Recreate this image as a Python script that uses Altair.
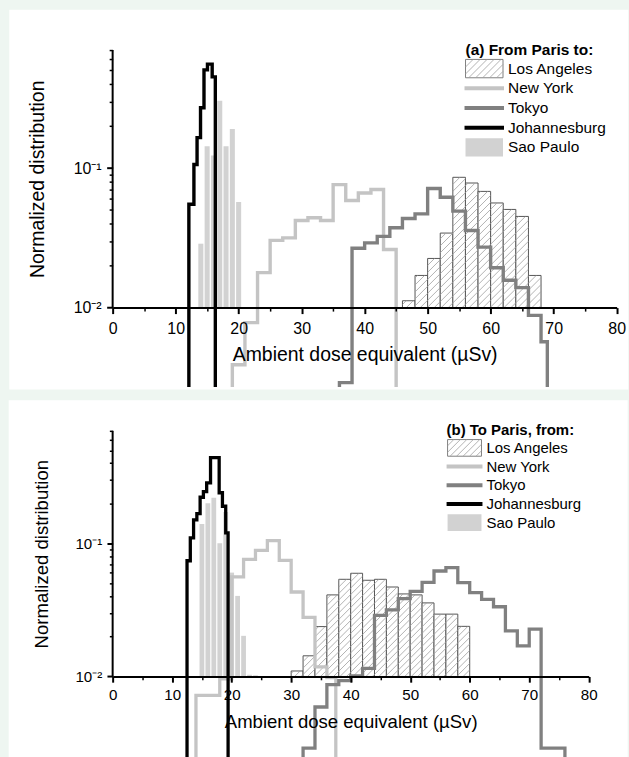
import math

import altair as alt
import pandas as pd

FONT = "Liberation Sans, Arial, Helvetica, sans-serif"
PAGE_BG = "#eef6f1"

CITIES = ["Los Angeles", "New York", "Tokyo", "Johannesburg", "Sao Paulo"]
LINE_COLORS = {"New York": "#c4c4c4", "Tokyo": "#808080", "Johannesburg": "#000000"}
SAO_FILL = "#d2d2d2"
LA_STROKE = "#555555"
HATCH_COLOR = "#a0a0a0"

X_TICKS = [0, 10, 20, 30, 40, 50, 60, 70, 80]
X_MINOR = [5, 15, 25, 35, 45, 55, 65, 75]
Y_TICKS = [0.01, 0.1]
Y_MINOR = [0.02, 0.03, 0.04, 0.05, 0.06, 0.07, 0.08, 0.09,
           0.2, 0.3, 0.4, 0.5, 0.6, 0.7]
AXIS_BASE = 0.01   # level where the dose axis sits
EMPTY = 1e-4       # empty bin: far below the visible part of the log axis

# ---------------- (a) From Paris to ----------------
LA_A_EDGES = [46, 48, 50, 52, 54, 56, 58, 60, 62, 64, 66, 68]
LA_A_VALUES = [0.0112, 0.0170, 0.0225, 0.0342, 0.0858, 0.0781,
               0.0680, 0.0562, 0.0505, 0.0450, 0.0170]
NY_A_EDGES = [19, 21, 23, 25, 27, 29, 31, 33, 35, 37, 39, 41, 43, 45]
NY_A_VALUES = [0.0039, 0.0078, 0.0178, 0.0303, 0.0316, 0.0421, 0.0440,
               0.0421, 0.0760, 0.0585, 0.0663, 0.0701, 0.0261]
TYO_A_EDGES = [36, 38, 40, 42, 44, 46, 48, 50, 52, 54, 56, 58, 60, 62,
               64, 66, 68, 69]
TYO_A_VALUES = [0.0029, 0.0266, 0.0291, 0.0324, 0.0373, 0.0435, 0.0469,
                0.0713, 0.0618, 0.0491, 0.0357, 0.0271, 0.0193, 0.0157,
                0.0139, 0.0088, 0.0057]
JNB_A_EDGES = [12.1, 12.9, 13.4, 13.95, 14.5, 15.05, 15.8, 16.3]
JNB_A_VALUES = [0.055, 0.106, 0.165, 0.27, 0.505, 0.555, 0.45]
SAO_A_CENTERS = [14, 15, 16, 17, 18, 19, 20]
SAO_A_VALUES = [0.0287, 0.143, 0.123, 0.303, 0.143, 0.190, 0.0571]

# ---------------- (b) To Paris, from ----------------
LA_B_EDGES = [30, 32, 34, 36, 38, 40, 42, 44, 46, 48, 50, 52, 54, 56, 58, 60]
LA_B_VALUES = [0.0110, 0.0143, 0.0237, 0.0410, 0.0537, 0.0596, 0.0528,
               0.0537, 0.0470, 0.0417, 0.0410, 0.0357, 0.0294, 0.0294,
               0.0238]
NY_B_EDGES = [14, 16, 18, 20, 22, 24, 26, 28, 30, 32, 34, 36, 37.5]
NY_B_VALUES = [0.0072, 0.0072, 0.0096, 0.0559, 0.0759, 0.0886, 0.105,
               0.0746, 0.0431, 0.0278, 0.0118, 0.0098]
TYO_B_EDGES = [32, 34, 36, 38, 40, 42, 44, 46, 48, 50, 52, 54, 56, 58,
               60, 62, 64, 66, 68, 70, 72, 76]
TYO_B_VALUES = [0.0029, 0.0059, 0.0087, 0.0093, 0.0101, 0.0115, 0.0288,
                0.0316, 0.0385, 0.0436, 0.0510, 0.0620, 0.0656, 0.0507,
                0.0426, 0.0380, 0.0334, 0.0220, 0.0170, 0.0227, 0.0029]
JNB_B_EDGES = [12.5, 13.05, 13.6, 14.15, 14.7, 15.25, 15.8, 16.45, 17.9,
               18.45, 19.0, 19.4]
JNB_B_VALUES = [0.074, 0.110, 0.150, 0.167, 0.222, 0.245, 0.285, 0.440,
                0.240, 0.190, 0.120]
SAO_B_CENTERS = [15, 16, 17, 18, 19, 20, 21, 22, 23, 24]
SAO_B_VALUES = [0.140, 0.200, 0.220, 0.100, 0.172, 0.0603, 0.0403, 0.0202,
                0.0103, 0.0102]
SAO_BAR_WIDTH = 0.8

PANELS = [
    dict(
        title="(a) From Paris to:",
        la=(LA_A_EDGES, LA_A_VALUES), ny=(NY_A_EDGES, NY_A_VALUES),
        tyo=(TYO_A_EDGES, TYO_A_VALUES), jnb=(JNB_A_EDGES, JNB_A_VALUES),
        sao=(SAO_A_CENTERS, SAO_A_VALUES),
        width=505.6, height=338, ydom=(0.0027, 0.7),
        bg=(-103.7, 517.3, -40.4, 340.6),
        tick=6, minor_tick=3.5, label_fs=16, label_pad=7, title_fs=19.5,
        title_pad=9.5, ylabel_pad=5.5, ytitle_x=-75.5, line_w=3.4,
        hatch=7,
        legend=dict(tx=354, ty=0, sx0=354, sx1=391.6, sh=18.4, text_x=396.6,
                    y0=18.6, dy=19.75, fs=15.5, lw=4),
    ),
    dict(
        title="(b) To Paris, from:",
        la=(LA_B_EDGES, LA_B_VALUES), ny=(NY_B_EDGES, NY_B_VALUES),
        tyo=(TYO_B_EDGES, TYO_B_VALUES), jnb=(JNB_B_EDGES, JNB_B_VALUES),
        sao=(SAO_B_CENTERS, SAO_B_VALUES),
        width=477.6, height=328, ydom=(0.00245, 0.7),
        bg=(-104.3, 516.7, -30.6, 332),
        tick=5.7, minor_tick=3.3, label_fs=15.2, label_pad=5.4, title_fs=18.6,
        title_pad=9.7, ylabel_pad=5.2, ytitle_x=-71.3, line_w=3.3,
        hatch=6.5,
        legend=dict(tx=335, ty=-1.3, sx0=336, sx1=370, sh=16.7, text_x=375,
                    y0=17.1, dy=18.75, fs=15, lw=4),
    ),
]


def log_px(v, p):
    lo, hi = math.log10(p["ydom"][0]), math.log10(p["ydom"][1])
    return p["height"] * (hi - math.log10(v)) / (hi - lo)


def px_log(py, p):
    lo, hi = math.log10(p["ydom"][0]), math.log10(p["ydom"][1])
    return 10 ** (hi - py * (hi - lo) / p["height"])


def hatch_lines(x0, x1, y0, y1, step):
    """'/' strokes (px + py = c) clipped to a pixel box, y pointing down."""
    segs = []
    k = math.ceil((x0 + y0) / step)
    while k * step <= x1 + y1:
        c = k * step
        a = max(x0, c - y1)
        b = min(x1, c - y0)
        if b - a > 0.4:
            segs.append((a, c - a, b, c - b))
        k += 1
    return segs


def step_frame(edges, values):
    xs = [edges[0]] + list(edges[:-1]) + [edges[-1], edges[-1]]
    ys = [EMPTY] + list(values) + [values[-1], EMPTY]
    return pd.DataFrame({"x": xs, "y": ys, "i": list(range(len(xs)))})


def build_panel(p):
    W, H = p["width"], p["height"]
    xs = alt.Scale(domain=[0, 80], nice=False, zero=False)
    ys = alt.Scale(type="log", domain=list(p["ydom"]), nice=False)
    base_px = log_px(AXIS_BASE, p)
    off = -(H - base_px)
    one = pd.DataFrame({"k": [0]})

    def X(field):
        return alt.X(field, scale=xs, axis=None)

    def Y(field):
        return alt.Y(field, scale=ys, axis=None)

    layers = []
    bx0, bx1, by0, by1 = p["bg"]
    layers.append(
        alt.Chart(one).mark_rect(color="white").encode(
            x=alt.value(bx0), x2=alt.value(bx1), y=alt.value(by0), y2=alt.value(by1)
        )
    )

    # Los Angeles: hatched histogram
    la_edges, la_vals = p["la"]
    la_df = pd.DataFrame({"lo": la_edges[:-1], "hi": la_edges[1:], "v": la_vals})
    layers.append(
        alt.Chart(la_df)
        .transform_calculate(base=str(AXIS_BASE))
        .mark_rect(fill="white", stroke=LA_STROKE, strokeWidth=1)
        .encode(x=X("lo:Q"), x2="hi:Q", y=Y("base:Q"), y2="v:Q")
    )
    kx = W / 80
    rows = []
    for lo, hi, v in zip(la_edges[:-1], la_edges[1:], la_vals):
        for a, ya, b, yb in hatch_lines(lo * kx, hi * kx, log_px(v, p), base_px, p["hatch"]):
            rows.append({"hx": a / kx, "hy": px_log(ya, p), "hx2": b / kx, "hy2": px_log(yb, p)})
    layers.append(
        alt.Chart(pd.DataFrame(rows))
        .mark_rule(color=HATCH_COLOR, strokeWidth=0.8)
        .encode(x=X("hx:Q"), y=Y("hy:Q"), x2="hx2:Q", y2="hy2:Q")
    )

    # Sao Paulo: filled columns
    sc, sv = p["sao"]
    layers.append(
        alt.Chart(pd.DataFrame({"c": sc, "v": sv}))
        .transform_calculate(
            lo=f"datum.c - {SAO_BAR_WIDTH / 2}",
            hi=f"datum.c + {SAO_BAR_WIDTH / 2}",
            base=str(AXIS_BASE),
        )
        .mark_rect(color=SAO_FILL)
        .encode(x=X("lo:Q"), x2="hi:Q", y=Y("base:Q"), y2="v:Q")
    )

    # step outlines
    for key, name in (("ny", "New York"), ("tyo", "Tokyo"), ("jnb", "Johannesburg")):
        e, v = p[key]
        layers.append(
            alt.Chart(step_frame(e, v))
            .mark_line(interpolate="step-after", clip=True, color=LINE_COLORS[name],
                       strokeWidth=p["line_w"], strokeJoin="miter", strokeCap="butt")
            .encode(x=X("x:Q"), y=Y("y:Q"), order="i:Q")
        )

    # axes: the vertical axis line stops at the dose axis
    axis_df = pd.DataFrame({"x": [0.0], "ylo": [AXIS_BASE], "yhi": [p["ydom"][1]]})
    major_x = alt.Axis(
        values=X_TICKS, orient="bottom", offset=off, format="d", zindex=2,
        tickSize=p["tick"], tickWidth=2, tickColor="black",
        domainWidth=2, domainColor="black",
        labelFontSize=p["label_fs"], labelColor="black", labelPadding=p["label_pad"],
        labelFlush=False, labelFont=FONT,
        title="Ambient dose equivalent (µSv)", titleFontSize=p["title_fs"],
        titleFontWeight="normal", titleColor="black", titlePadding=p["title_pad"],
        titleFont=FONT, grid=False,
    )
    major_y = alt.Axis(
        values=Y_TICKS, orient="left", domain=False, zindex=2,
        tickSize=p["tick"], tickWidth=2, tickColor="black",
        labelExpr="datum.value < 0.05 ? '10⁻²' : '10⁻¹'",
        labelFontSize=p["label_fs"], labelColor="black", labelPadding=p["ylabel_pad"],
        labelFont=FONT,
        title="Normalized distribution", titleFontSize=p["title_fs"],
        titleFontWeight="normal", titleColor="black", titleFont=FONT,
        titleAngle=270, titleX=p["ytitle_x"], titleY=base_px / 2,
        titleAlign="center", titleBaseline="middle", grid=False,
    )
    layers.append(
        alt.Chart(axis_df).mark_rule(color="black", strokeWidth=2).encode(
            x=alt.X("x:Q", scale=xs, axis=major_x),
            y=alt.Y("ylo:Q", scale=ys, axis=major_y),
            y2="yhi:Q",
        )
    )
    minor_x = alt.Axis(values=X_MINOR, orient="bottom", offset=off, tickSize=p["minor_tick"],
                       tickWidth=1.5, tickColor="black", labels=False, domain=False,
                       title=None, grid=False, zindex=2)
    minor_y = alt.Axis(values=Y_MINOR, orient="left", tickSize=p["minor_tick"], tickWidth=1.5,
                       tickColor="black", labels=False, domain=False, title=None, grid=False,
                       zindex=2)
    layers.append(
        alt.Chart(axis_df).mark_point(opacity=0).encode(
            x=alt.X("x:Q", scale=xs, axis=minor_x),
            y=alt.Y("ylo:Q", scale=ys, axis=minor_y),
        )
    )

    # legend block
    L = p["legend"]
    layers.append(
        alt.Chart(one).mark_text(
            text=p["title"], font=FONT, fontSize=L["fs"], fontWeight="bold",
            align="left", baseline="middle", color="black",
        ).encode(x=alt.value(L["tx"]), y=alt.value(L["ty"]))
    )
    for i, name in enumerate(CITIES):
        cy = L["y0"] + i * L["dy"]
        top, bot = cy - L["sh"] / 2, cy + L["sh"] / 2
        if name == "Los Angeles":
            layers.append(
                alt.Chart(one).mark_rect(fill="white", stroke="#808080", strokeWidth=1).encode(
                    x=alt.value(L["sx0"]), x2=alt.value(L["sx1"]),
                    y=alt.value(top), y2=alt.value(bot),
                )
            )
            for a, ya, b, yb in hatch_lines(L["sx0"], L["sx1"], top, bot, p["hatch"]):
                layers.append(
                    alt.Chart(one).mark_rule(color=HATCH_COLOR, strokeWidth=0.8).encode(
                        x=alt.value(a), y=alt.value(ya), x2=alt.value(b), y2=alt.value(yb)
                    )
                )
        elif name == "Sao Paulo":
            layers.append(
                alt.Chart(one).mark_rect(color=SAO_FILL).encode(
                    x=alt.value(L["sx0"]), x2=alt.value(L["sx1"]),
                    y=alt.value(top), y2=alt.value(bot),
                )
            )
        else:
            layers.append(
                alt.Chart(one).mark_rule(color=LINE_COLORS[name], strokeWidth=L["lw"]).encode(
                    x=alt.value(L["sx0"] - 1), x2=alt.value(L["sx1"] + 1), y=alt.value(cy)
                )
            )
        layers.append(
            alt.Chart(one).mark_text(
                text=name, font=FONT, fontSize=L["fs"], align="left",
                baseline="middle", color="black",
            ).encode(x=alt.value(L["text_x"]), y=alt.value(cy))
        )

    return (
        alt.layer(*layers)
        .resolve_axis(x="independent", y="independent")
        .properties(width=W, height=H)
    )


chart = (
    alt.vconcat(*[build_panel(p) for p in PANELS], spacing=10)
    .properties(background=PAGE_BG, padding={"left": 8, "top": 8, "right": 0, "bottom": 0})
    .configure(font=FONT)
    .configure_view(strokeWidth=0)
)

chart.save("out.html", embed_options={"renderer": "svg", "actions": False})
